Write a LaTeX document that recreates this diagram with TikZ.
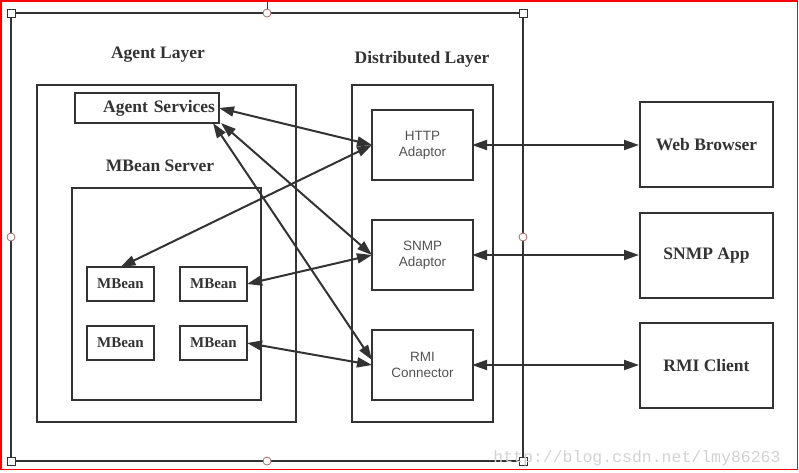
\documentclass[tikz,border=0pt]{standalone}
\usepackage{fontspec}
\setmainfont{Liberation Serif}
\newfontfamily\adfont{Liberation Sans}
\newfontfamily\wmfont{Liberation Mono}
\usetikzlibrary{arrows.meta}
\definecolor{ink}{HTML}{333333}
\definecolor{handle}{HTML}{A86A6A}

\begin{document}
\begin{tikzpicture}[x = 1pt, y = -1pt,
		box/.style = {draw = ink, line width = 2pt, inner sep = 0pt, outer sep = 0pt},
		title/.style = {font = \fontsize{17.5}{20}\selectfont\bfseries, text = ink},
		bean/.style = {box, minimum width = 67pt, minimum height = 34pt, font = \fontsize{15}{18}\selectfont\bfseries, text = ink},
		adaptor/.style = {box, minimum width = 101pt, minimum height = 70pt, align = center, font = \fontsize{13.5}{16}\selectfont\adfont, text = ink!85},
		client/.style = {box, title, minimum width = 133pt, minimum height = 85pt},
		link/.style = {draw = ink, line width = 2pt, {Triangle[length = 15pt, width = 10pt]}-{Triangle[length = 15pt, width = 10pt]}},
		sqhandle/.style = {draw = ink, fill = white, line width = 0.8pt, minimum size = 8pt, inner sep = 0pt},
		cirhandle/.style = {circle, draw = handle, fill = white, line width = 0.8pt, minimum size = 8pt, inner sep = 0pt}]
	\useasboundingbox (0, 0) rectangle (799, 472);
	% red selection border and frame
	\draw[red, line width = 1.5pt] (1, 1) rectangle (797.5, 469.5);
	\draw[ink, line width = 1pt] (267, 1) -- (267, 13);
	\node[box, minimum width = 512pt, minimum height = 448pt] (frame) at (267, 237) {};
	% agent layer
	\node[title] (agenttitle) at (158, 55) {Agent Layer};
	\node[box, minimum width = 259pt, minimum height = 337pt] (agent) at (166.5, 253.5) {};
	\node[box, title, inner xsep = 4pt, text width = 136pt, align = right, minimum height = 30pt] (svc) at (147, 108) {Agent Services};
	\node[title] (srvtitle) at (160, 166) {MBean Server};
	\node[box, minimum width = 189pt, minimum height = 212pt] (mbsrv) at (166.5, 294) {};
	\node[bean] (mbA) at (120.5, 284) {MBean};
	\node[bean] (mbB) at (213.5, 284) {MBean};
	\node[bean] (mbC) at (120.5, 343) {MBean};
	\node[bean] (mbD) at (213.5, 343) {MBean};
	% distributed layer
	\node[title] (disttitle) at (422, 59) {Distributed Layer};
	\node[box, minimum width = 141pt, minimum height = 337pt] (dist) at (422.5, 253.5) {};
	\node[adaptor] (http) at (422.5, 145) {HTTP\\Adaptor};
	\node[adaptor] (snmp) at (422.5, 255) {SNMP\\Adaptor};
	\node[adaptor] (rmi) at (422.5, 365) {RMI\\Connector};
	% clients
	\node[client] (web) at (706.5, 144.5) {Web Browser};
	\node[client] (snmpapp) at (706.5, 255.5) {SNMP App};
	\node[client] (rmicl) at (706.5, 365.5) {RMI Client};
	% connectors
	\draw[link] (svc.east) -- (http.west);
	\draw[link] (mbA.north) -- (http.west);
	\draw[link] ([xshift = 2pt]svc.south east) -- (snmp.west);
	\draw[link] ([xshift = -6pt]svc.south east) -- ([yshift = 5pt]rmi.west);
	\draw[link] (mbB.east) -- (snmp.west);
	\draw[link] (mbD.east) -- (rmi.west);
	\draw[link] ([xshift = -1pt]http.east) -- ([xshift = -1pt]http.east -| web.west);
	\draw[link] ([xshift = -1pt]snmp.east) -- ([xshift = -1pt]snmp.east -| snmpapp.west);
	\draw[link] ([xshift = -1pt]rmi.east) -- ([xshift = -1pt]rmi.east -| rmicl.west);
	% selection handles
	\foreach \hx/\hy in {11/13, 523/13, 11/461, 523/461}
		\node[sqhandle] at (\hx, \hy) {};
	\foreach \hx/\hy in {267/13, 11/237, 523/237, 267/461}
		\node[cirhandle] at (\hx, \hy) {};
	\node[text = gray!35, font = \fontsize{16.5}{18}\selectfont\wmfont] (mark) at (637, 458) {http://blog.csdn.net/lmy86263};
\end{tikzpicture}
\end{document}
